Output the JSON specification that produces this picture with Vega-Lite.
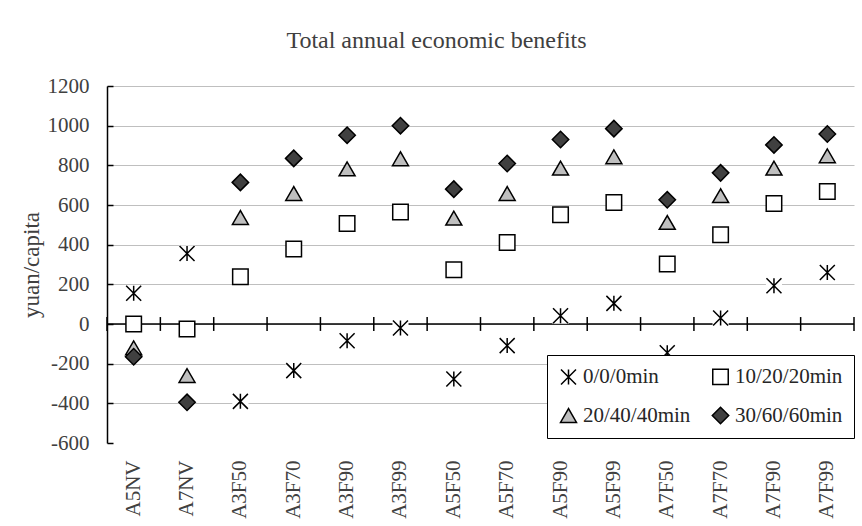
{
  "$schema": "https://vega.github.io/schema/vega-lite/v6.json",
  "width": 747,
  "height": 357,
  "autosize": {"type": "none"},
  "padding": {"left": 107, "top": 86, "right": 8, "bottom": 83},
  "background": "white",
  "title": {"text": "Total annual economic benefits", "font": "Liberation Serif", "fontSize": 24, "fontWeight": "normal", "color": "#404040", "anchor": "middle", "dx": -44, "offset": 22},
  "config": {
    "view": {"stroke": null},
    "axis": {"labelFont": "Liberation Serif", "labelFontSize": 21, "labelColor": "#404040", "titleFont": "Liberation Serif", "titleFontSize": 23, "titleFontWeight": "normal", "titleColor": "#404040"}
  },
  "data": {"values": [
    {"cat": "A5NV", "series": "0/0/0min", "v": 155},
    {"cat": "A7NV", "series": "0/0/0min", "v": 355},
    {"cat": "A3F50", "series": "0/0/0min", "v": -390},
    {"cat": "A3F70", "series": "0/0/0min", "v": -235},
    {"cat": "A3F90", "series": "0/0/0min", "v": -84},
    {"cat": "A3F99", "series": "0/0/0min", "v": -20},
    {"cat": "A5F50", "series": "0/0/0min", "v": -277},
    {"cat": "A5F70", "series": "0/0/0min", "v": -109},
    {"cat": "A5F90", "series": "0/0/0min", "v": 42},
    {"cat": "A5F99", "series": "0/0/0min", "v": 104},
    {"cat": "A7F50", "series": "0/0/0min", "v": -145},
    {"cat": "A7F70", "series": "0/0/0min", "v": 30},
    {"cat": "A7F90", "series": "0/0/0min", "v": 193},
    {"cat": "A7F99", "series": "0/0/0min", "v": 260},
    {"cat": "A5NV", "series": "10/20/20min", "v": 0},
    {"cat": "A7NV", "series": "10/20/20min", "v": -25},
    {"cat": "A3F50", "series": "10/20/20min", "v": 238},
    {"cat": "A3F70", "series": "10/20/20min", "v": 378},
    {"cat": "A3F90", "series": "10/20/20min", "v": 507},
    {"cat": "A3F99", "series": "10/20/20min", "v": 565},
    {"cat": "A5F50", "series": "10/20/20min", "v": 274},
    {"cat": "A5F70", "series": "10/20/20min", "v": 411},
    {"cat": "A5F90", "series": "10/20/20min", "v": 551},
    {"cat": "A5F99", "series": "10/20/20min", "v": 613},
    {"cat": "A7F50", "series": "10/20/20min", "v": 302},
    {"cat": "A7F70", "series": "10/20/20min", "v": 450},
    {"cat": "A7F90", "series": "10/20/20min", "v": 608},
    {"cat": "A7F99", "series": "10/20/20min", "v": 668},
    {"cat": "A5NV", "series": "20/40/40min", "v": -120},
    {"cat": "A7NV", "series": "20/40/40min", "v": -260},
    {"cat": "A3F50", "series": "20/40/40min", "v": 537},
    {"cat": "A3F70", "series": "20/40/40min", "v": 658},
    {"cat": "A3F90", "series": "20/40/40min", "v": 782},
    {"cat": "A3F99", "series": "20/40/40min", "v": 833},
    {"cat": "A5F50", "series": "20/40/40min", "v": 534},
    {"cat": "A5F70", "series": "20/40/40min", "v": 658},
    {"cat": "A5F90", "series": "20/40/40min", "v": 786},
    {"cat": "A5F99", "series": "20/40/40min", "v": 843},
    {"cat": "A7F50", "series": "20/40/40min", "v": 512},
    {"cat": "A7F70", "series": "20/40/40min", "v": 647},
    {"cat": "A7F90", "series": "20/40/40min", "v": 786},
    {"cat": "A7F99", "series": "20/40/40min", "v": 848},
    {"cat": "A5NV", "series": "30/60/60min", "v": -165},
    {"cat": "A7NV", "series": "30/60/60min", "v": -395},
    {"cat": "A3F50", "series": "30/60/60min", "v": 714},
    {"cat": "A3F70", "series": "30/60/60min", "v": 835},
    {"cat": "A3F90", "series": "30/60/60min", "v": 952},
    {"cat": "A3F99", "series": "30/60/60min", "v": 1000},
    {"cat": "A5F50", "series": "30/60/60min", "v": 680},
    {"cat": "A5F70", "series": "30/60/60min", "v": 809},
    {"cat": "A5F90", "series": "30/60/60min", "v": 930},
    {"cat": "A5F99", "series": "30/60/60min", "v": 985},
    {"cat": "A7F50", "series": "30/60/60min", "v": 626},
    {"cat": "A7F70", "series": "30/60/60min", "v": 762},
    {"cat": "A7F90", "series": "30/60/60min", "v": 903},
    {"cat": "A7F99", "series": "30/60/60min", "v": 958}
  ]},
  "encoding": {
    "x": {"field": "cat", "type": "nominal", "sort": null, "scale": {"type": "band", "paddingInner": 0, "paddingOuter": 0},
          "axis": {"title": null, "labelAngle": -90, "labelAlign": "right", "labelBaseline": "middle", "ticks": false, "domain": false, "grid": false, "labelPadding": 17}},
    "y": {"field": "v", "type": "quantitative", "scale": {"domain": [-600, 1200], "nice": false, "zero": false},
          "axis": {"title": "yuan/capita", "tickCount": 9, "labelOverlap": false, "grid": true, "gridWidth": 1.2,
                   "gridColor": {"condition": {"test": "datum.value === -600", "value": "white"}, "value": "#BFBFBF"},
                   "domainColor": "black", "domainWidth": 1.5, "tickColor": "black", "tickWidth": 1.5, "tickSize": -6, "labelPadding": 24,
                   "labelExpr": "datum.value < 0 ? '-' + abs(datum.value) : '' + datum.value", "titlePadding": 4}}
  },
  "layer": [
    {
      "data": {"values": [{"z": 0}]},
      "mark": {"type": "rule", "color": "black", "strokeWidth": 1.5},
      "encoding": {"x": null, "y": {"field": "z", "type": "quantitative"}}
    },
    {
      "transform": [{"filter": "datum.series === '0/0/0min'"}],
      "mark": {"type": "rule", "color": "black", "strokeWidth": 1.5},
      "encoding": {
        "x": {"field": "cat", "type": "nominal", "sort": null, "bandPosition": 0},
        "y": {"datum": -35},
        "y2": {"datum": 35}
      }
    },
    {
      "transform": [{"filter": "datum.series === '0/0/0min' && datum.cat === 'A7F99'"}],
      "mark": {"type": "rule", "color": "black", "strokeWidth": 1.5},
      "encoding": {
        "x": {"field": "cat", "type": "nominal", "sort": null, "bandPosition": 1},
        "y": {"datum": -35},
        "y2": {"datum": 35}
      }
    },
    {
      "transform": [{"filter": "datum.series === '0/0/0min'"}],
      "mark": {"type": "point", "shape": "square", "filled": true, "fill": "white", "opacity": 1, "size": 260}
    },
    {
      "mark": {"type": "point", "filled": true, "stroke": "black", "strokeWidth": 1.5, "opacity": 1},
      "encoding": {
        "shape": {"field": "series", "type": "nominal",
                  "scale": {"domain": ["0/0/0min", "10/20/20min", "20/40/40min", "30/60/60min"], "range": ["M-1,-1L1,1M1,-1L-1,1M0,-1L0,1", "square", "triangle-up", "diamond"]},
                  "legend": {"title": null, "orient": "none", "legendX": 440, "legendY": 269, "columns": 2, "direction": "horizontal", "strokeColor": "black", "fillColor": "white", "padding": 11,
                             "labelFont": "Liberation Serif", "labelFontSize": 21, "labelColor": "#262626", "columnPadding": 18, "rowPadding": 16, "labelOffset": 4,
                             "symbolStrokeColor": "black", "symbolStrokeWidth": 1.5}},
        "fill": {"field": "series", "type": "nominal",
                 "scale": {"domain": ["0/0/0min", "10/20/20min", "20/40/40min", "30/60/60min"], "range": ["white", "white", "#BFBFBF", "#404040"]},
                 "legend": {"title": null}},
        "size": {"field": "series", "type": "nominal",
                 "scale": {"domain": ["0/0/0min", "10/20/20min", "20/40/40min", "30/60/60min"], "range": [225, 270, 400, 330]},
                 "legend": {"title": null}}
      }
    }
  ]
}
